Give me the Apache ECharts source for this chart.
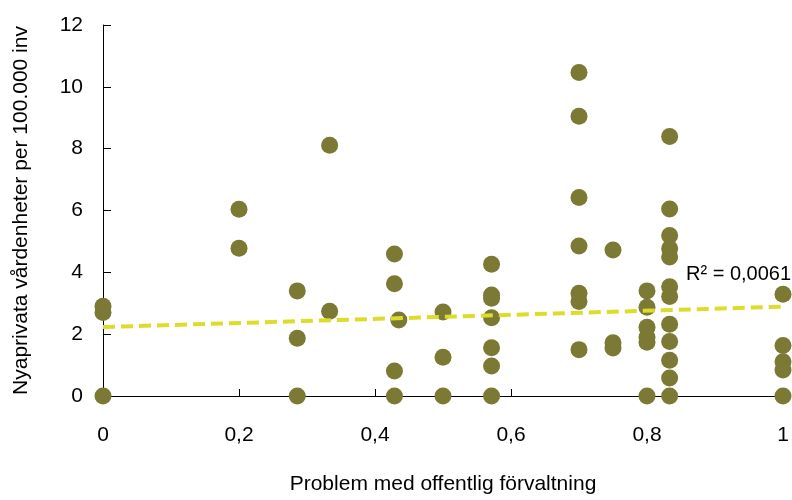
<!DOCTYPE html>
<html>
<head>
<meta charset="utf-8">
<script src="https://cdn.jsdelivr.net/npm/echarts@6/dist/echarts.min.js"></script>
<style>html,body{margin:0;padding:0;background:#fff}#c{width:792px;height:500px}</style>
</head>
<body>
<div id="c"></div>
<script>
// Data
var xValues = [
  0, 0, 0,
  0.2, 0.2,
  0.2857, 0.2857, 0.2857,
  0.3333, 0.3333,
  0.4286, 0.4286, 0.4286, 0.4286,
  0.435,
  0.5, 0.5, 0.5,
  0.5714, 0.5714, 0.5714, 0.5714, 0.5714, 0.5714, 0.5714,
  0.7, 0.7, 0.7, 0.7, 0.7, 0.7, 0.7,
  0.75, 0.75, 0.75,
  0.8, 0.8, 0.8, 0.8, 0.8, 0.8,
  0.8333, 0.8333, 0.8333, 0.8333, 0.8333, 0.8333, 0.8333, 0.8333, 0.8333, 0.8333, 0.8333, 0.8333,
  1, 1, 1, 1, 1
];
var yValues = [
  2.9, 2.7, 0,
  6.04, 4.78,
  3.40, 1.87, 0,
  8.11, 2.74,
  4.59, 3.63, 0.81, 0,
  2.46,
  2.72, 1.25, 0,
  4.26, 3.27, 3.16, 2.53, 1.56, 0.97, 0,
  10.46, 9.05, 6.42, 4.85, 3.32, 3.06, 1.50,
  4.72, 1.72, 1.55,
  3.40, 2.87, 2.22, 1.90, 1.74, 0,
  8.39, 6.05, 5.19, 4.77, 4.50, 3.53, 3.22, 2.32, 1.76, 1.16, 0.58, 0,
  3.29, 1.63, 1.11, 0.84, 0
];
var trendX = [0, 1];
var trendY = [2.23, 2.89];
var r2Label = 'R² = 0,0061';
var xTitle = 'Problem med offentlig förvaltning';
var yTitle = 'Nyaprivata vårdenheter per 100.000 inv';

var points = xValues.map(function (x, i) { return [x, yValues[i]]; });
var trend = trendX.map(function (x, i) { return [x, trendY[i]]; });

var FONT = 'Liberation Sans';
var chart = echarts.init(document.getElementById('c'), null, {renderer: 'canvas'});
chart.setOption({
  animation: false,
  backgroundColor: '#ffffff',
  grid: {left: 103, right: 9, top: 25, bottom: 96, containLabel: false},
  xAxis: {
    type: 'value', min: 0, max: 1, interval: 0.2,
    name: xTitle, nameLocation: 'middle', nameGap: 78,
    nameTextStyle: {fontFamily: FONT, fontSize: 21, color: '#000'},
    axisLine: {show: true, onZero: false, lineStyle: {color: '#000', width: 1}},
    axisTick: {show: true, inside: true, length: 7, lineStyle: {color: '#000'}},
    splitLine: {show: false},
    axisLabel: {
      margin: 29, fontFamily: FONT, fontSize: 21, color: '#000',
      formatter: function (v) { return String(Math.round(v * 10) / 10).replace('.', ','); }
    }
  },
  yAxis: {
    type: 'value', min: 0, max: 12, interval: 2,
    name: yTitle, nameLocation: 'middle', nameGap: 71, nameRotate: 90,
    nameTextStyle: {fontFamily: FONT, fontSize: 21, color: '#000'},
    axisLine: {show: true, onZero: false, lineStyle: {color: '#000', width: 1}},
    axisTick: {show: true, inside: true, length: 8, lineStyle: {color: '#000'}},
    splitLine: {show: false},
    axisLabel: {margin: 20, fontFamily: FONT, fontSize: 21, color: '#000'}
  },
  series: [
    {
      type: 'line', data: trend, showSymbol: false, symbol: 'none', silent: true,
      lineStyle: {color: '#dcdc2a', width: 4, type: [12, 6]},
      z: 3
    },
    {
      type: 'scatter', data: points, symbol: 'circle', symbolSize: 17,
      itemStyle: {color: '#7b7934', opacity: 1},
      z: 2
    }
  ],
  graphic: [{
    type: 'text', left: 686, top: 264, z: 10,
    style: {text: r2Label, font: '20px "Liberation Sans"', fill: '#000'}
  }]
});
</script>
</body>
</html>
